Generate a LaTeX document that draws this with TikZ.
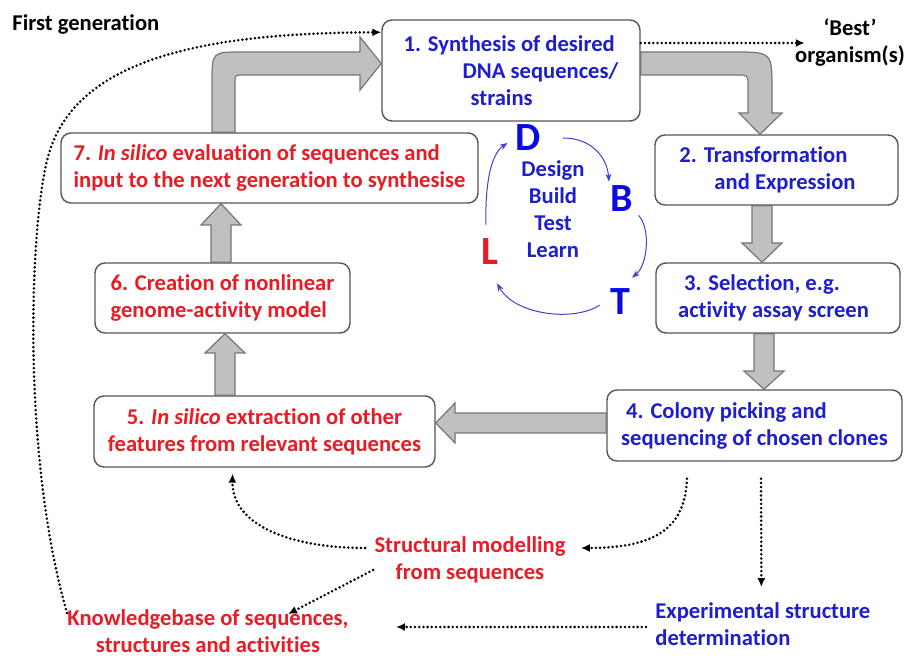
\documentclass[tikz,border=0pt]{standalone}
\usepackage{fontspec}
\setmainfont{Carlito}[Ligatures=NoCommon]
\usetikzlibrary{arrows.meta,calc}

\definecolor{stepblue}{RGB}{30,30,205}
\definecolor{stepred}{RGB}{232,28,36}
\definecolor{letterblue}{RGB}{10,10,230}
\definecolor{blockgrey}{RGB}{192,192,192}
\definecolor{blockline}{RGB}{118,118,118}
\definecolor{boxline}{RGB}{85,85,85}

\begin{document}
\begin{tikzpicture}[
    x=0.5pt, y=-0.5pt,
    every node/.style={font=\fontsize{11.3}{13.5}\selectfont\bfseries, inner sep=0pt},
    stage/.style={draw=boxline, line width=0.7pt, rounded corners=5pt, fill=white, align=left},
    bluestage/.style={stage, text=stepblue},
    redstage/.style={stage, text=stepred},
    letter/.style={font=\fontsize{20}{20}\selectfont\bfseries, text=letterblue},
    block/.style={fill=blockgrey, draw=blockline, line width=0.6pt},
    dotarrow/.style={line width=1.4pt, line cap=round, dash pattern=on 0pt off 2.1pt, -{Latex[length=4.5pt,width=4pt]}},
    cyc/.style={draw=stepblue!85, line width=0.5pt, -{Stealth[length=4pt,width=3pt]}}
]
\useasboundingbox (0,0) rectangle (909,656);

% ----- stages of the cycle -----
\node[bluestage, minimum width=129pt, minimum height=50.5pt] (s1) at (511,70.5)
    {1. Synthesis of desired\\\hspace*{29.5pt}DNA sequences/\\\hspace*{33.5pt}strains};
\node[bluestage, minimum width=121.5pt, minimum height=35pt] (s2) at (776.5,170)
    {2. Transformation\\\hspace*{17.5pt}and Expression\hspace*{9pt}};
\node[bluestage, minimum width=122pt, minimum height=35pt] (s3) at (778,298)
    {\hspace*{3pt}3. Selection, e.g.\\activity assay screen\hspace*{4.5pt}};
\node[bluestage, minimum width=147.5pt, minimum height=35.5pt] (s4) at (754.5,425.5)
    {\hspace*{2.5pt}4. Colony picking and\\sequencing of chosen clones};
\node[redstage, align=center, minimum width=170.5pt, minimum height=35.5pt] (s5) at (264.5,431.5)
    {5. \textit{In silico} extraction of other\\features from relevant sequences};
\node[redstage, minimum width=127.5pt, minimum height=35pt] (s6) at (222.5,298)
    {6. Creation of nonlinear\\genome-activity model};
\node[redstage, minimum width=208.5pt, minimum height=35pt] (s7) at (269.5,168)
    {7. \textit{In silico} evaluation of sequences and\\input to the next generation to synthesise};

% ----- DBTL -----
\node[letter] (ldD) at (528,138) {D};
\node[letter] (ldB) at (622,199) {B};
\node[letter] (ldT) at (620,302) {T};
\node[letter, text=stepred] (ldL) at (490,252) {L};
\node[text=stepblue, align=center] (dbtl) at (553,209) {Design\\Build\\Test\\Learn};

% ----- other labels -----
\node[anchor=west] (firstgen) at (12,24) {First generation};
\node[align=center] (best) at (850,43) {‘Best’\\organism(s)};
\node[text=stepred, align=center] (sm) at (470,560) {Structural modelling\\from sequences};
\node[text=stepblue, align=left, anchor=west] (esd) at (655,624) {Experimental structure\\determination};
\node[text=stepred, align=center] (kb) at (208,631) {Knowledgebase of sequences,\\structures and activities};

% ----- block arrows -----
\draw[block] (212,0 |- s7.north) -- (212,82) .. controls (212,52) .. (242,52) -- (360,52) -- (360,37)
    -- (s1.west |- 0,63.5) -- (360,90) -- (360,75) -- (243,75) .. controls (235,75) .. (235,83)
    -- (235,0 |- s7.north) -- cycle;
\draw[block] (s1.east |- 0,52) -- (734,52) .. controls (772,52) .. (772,90) -- (772,113) -- (782,113)
    -- (760,0 |- s2.north) -- (739,113) -- (748,113) -- (748,86) .. controls (748,75) .. (737,75)
    -- (s1.east |- 0,75) -- cycle;
\draw[block] (752,0 |- s2.south) -- (772,0 |- s2.south) -- (772,243) -- (782,243)
    -- (762,0 |- s3.north) -- (742,243) -- (752,243) -- cycle;
\draw[block] (754,0 |- s3.south) -- (774,0 |- s3.south) -- (774,371) -- (784,371)
    -- (764,0 |- s4.north) -- (744,371) -- (754,371) -- cycle;
\draw[block] (s4.west |- 0,413) -- (455,413) -- (455,403) -- (s5.east |- 0,423)
    -- (455,443) -- (455,433) -- (s4.west |- 0,433) -- cycle;
\draw[block] (215,0 |- s5.north) -- (215,353) -- (205,353) -- (225,0 |- s6.south)
    -- (245,353) -- (235,353) -- (235,0 |- s5.north) -- cycle;
\draw[block] (211,0 |- s6.north) -- (211,225) -- (201,225) -- (221,0 |- s7.south)
    -- (241,225) -- (231,225) -- (231,0 |- s6.north) -- cycle;

% ----- DBTL arrows -----
\draw[cyc] ([shift={(22,0)}]ldD.east) .. controls +(28,0) and +(-2,-25) .. ([shift={(-13,-4)}]ldB.north);
\draw[cyc] ([shift={(5,3)}]ldB.south east) .. controls +(12,13) and +(16,-13) .. ([shift={(12,-11)}]ldT.north);
\draw[cyc] ([shift={(-10,3)}]ldT.west) .. controls +(-25,17) and +(18,32) .. ([shift={(7,18)}]ldL.south);
\draw[cyc] ([shift={(-4,-14)}]ldL.north) .. controls +(-1,-35) and +(-18,12) .. ([shift={(-7.5,5)}]ldD.west);

% ----- dotted arrows -----
\draw[dotarrow] (s1.east |- best.west) -- ([xshift=5pt]best.west);
\draw[dotarrow] ([yshift=-2pt]kb.north west) .. controls (20,450) and (30,210) .. (50,150)
    .. controls (80,60) and (200,33) .. ([yshift=-6.5pt]s1.north west);
\draw[dotarrow] ([shift={(-67.5,17)}]s4.south) .. controls (685,525) and (660,548) .. ([shift={(15,-12)}]sm.east);
\draw[dotarrow] ([shift={(-9,-12)}]sm.west) .. controls (290,548) and (232,525) .. ([shift={(-32,6)}]s5.south);
\draw[dotarrow] ([shift={(-1,10)}]sm.west) -- ([shift={(80,5)}]kb.north);
\draw[dotarrow] ([shift={(6.5,17)}]s4.south) -- ([shift={(-1.5,-15)}]esd.north);
\draw[dotarrow] ([shift={(-9,3)}]esd.west) -- ([shift={(47,-4)}]kb.east);

\end{tikzpicture}
\end{document}
